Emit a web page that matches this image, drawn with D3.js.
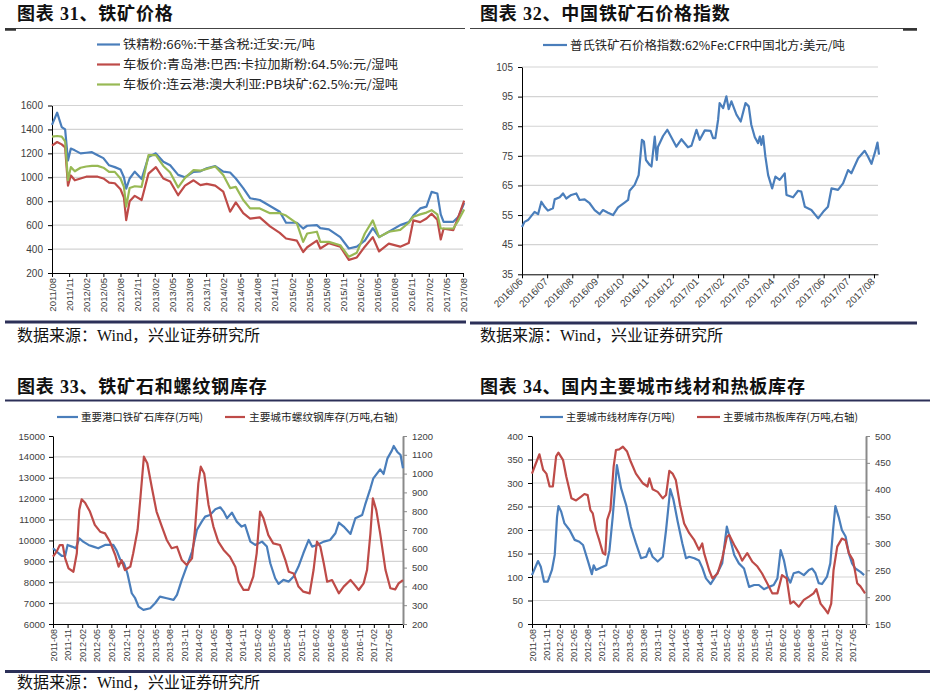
<!DOCTYPE html>
<html><head><meta charset="utf-8">
<script src="https://cdn.jsdelivr.net/npm/d3@7"></script>
<style>body{margin:0;background:#fff}svg{display:block}</style>
</head><body>
<script>
// ---------- Panel 31: iron ore prices (month offset from 2011/08) ----------
const p1T = [0,0.9,1.7,2.3,2.8,3.3,4,5,6,7,8,9,10,11,12,12.6,13,13.6,14.5,15.7,16.9,18.2,19.5,20.7,22.1,23.3,24.8,26,27.1,28.6,30,31.2,32.2,33.5,34.7,36.4,38.2,39.9,41,42.9,44,44.7,46.4,47,48.5,50.5,52,53.4,54.8,56.2,57.3,59,61,62.5,63.3,64.5,65.6,66.5,67.5,68.1,68.6,70.3,71.2,72.2];
const p1Qianan = [1438,1540,1420,1400,1140,1240,1225,1200,1205,1210,1185,1160,1100,1085,1065,1000,905,990,1047,985,1170,1200,1130,1100,1020,1000,1045,1050,1075,1094,1047,1040,990,910,825,810,760,712,620,620,572,595,600,575,565,500,405,420,470,575,500,545,600,625,680,740,755,878,865,690,628,628,670,785];
const p1Carajas = [1265,1295,1275,1250,930,1015,975,990,1005,1005,1005,990,955,950,900,830,642,800,845,810,1030,1085,990,965,850,930,975,935,945,930,880,712,790,700,655,665,590,535,488,470,375,415,470,405,450,420,310,330,420,500,380,445,420,450,640,625,655,695,645,480,570,558,670,805];
const p1PBLump = [1340,1345,1340,1300,975,1085,1050,1080,1090,1095,1095,1080,1045,1045,990,920,755,910,925,920,1185,1185,1095,1040,915,995,1060,1055,1070,1090,1020,910,920,810,740,740,700,700,680,615,460,530,545,460,460,432,335,370,530,640,500,545,560,620,670,690,705,725,690,572,572,572,640,730];
const p1Names = ["铁精粉:66%:干基含税:迁安:元/吨","车板价:青岛港:巴西:卡拉加斯粉:64.5%:元/湿吨","车板价:连云港:澳大利亚:PB块矿:62.5%:元/湿吨"];
const p1XLabels = ["2011/08","2011/11","2012/02","2012/05","2012/08","2012/11","2013/02","2013/05","2013/08","2013/11","2014/02","2014/05","2014/08","2014/11","2015/02","2015/05","2015/08","2015/11","2016/02","2016/05","2016/08","2016/11","2017/02","2017/05","2017/08"];
const p1YTicks = [200,400,600,800,1000,1200,1400,1600];

// ---------- Panel 32: Platts index (month offset from 2016/06) ----------
const p2T = [0,0.1,0.24,0.5,0.64,0.77,0.9,1.03,1.23,1.3,1.5,1.63,1.76,1.96,2.16,2.29,2.49,2.69,2.89,3.09,3.22,3.42,3.62,3.82,4.08,4.22,4.28,4.48,4.64,4.77,4.85,4.93,5.08,5.15,5.28,5.36,5.41,5.61,5.78,5.94,6.14,6.34,6.6,6.74,6.94,7.07,7.27,7.5,7.6,7.69,7.8,7.86,8.0,8.13,8.22,8.33,8.53,8.7,8.89,9.02,9.12,9.26,9.39,9.46,9.52,9.59,9.68,9.79,9.95,10.08,10.25,10.45,10.52,10.78,10.98,11.11,11.25,11.51,11.78,11.98,12.17,12.31,12.57,12.77,12.97,13.1,13.37,13.63,13.76,13.9,14.03,14.14,14.2];
const p2Platts = [51.0,52.7,53.3,56.1,55.3,59.5,57.8,56.5,57.3,60.3,61.0,62.3,60.6,61.8,62.3,60.1,60.3,59.0,56.7,55.3,56.7,55.8,55.0,57.6,59.2,60.1,63.2,65.2,68.5,80.4,79.8,73.6,71.9,71.4,81.5,73.6,78.1,81.7,83.8,81.3,78.1,80.6,77.9,78.4,83.8,80.4,83.6,83.4,81.0,81.0,87.2,92.8,91.1,95.1,90.8,93.4,88.9,86.6,92.8,91.7,85.5,81.3,79.3,81.5,78.7,81.7,74.8,68.5,64.0,68.0,66.9,69.1,61.8,61.0,63.2,62.9,57.8,56.7,53.9,56.1,57.8,64.0,63.5,65.7,70.2,69.1,74.2,76.7,74.8,72.3,75.9,79.5,75.4];
const p2Name = "普氏铁矿石价格指数:62%Fe:CFR中国北方:美元/吨";
const p2XLabels = ["2016/06","2016/07","2016/08","2016/09","2016/10","2016/11","2016/12","2017/01","2017/02","2017/03","2017/04","2017/05","2017/06","2017/07","2017/08"];
const p2YTicks = [35,45,55,65,75,85,95,105];

// ---------- Panel 33: ore port stock & rebar stock (month offset from 2011-08) ----------
const p3OreT = [0,0.75,1.8,2.5,3,3.9,4.7,5.4,6.2,7.3,8.3,9.3,10.7,12.4,13.1,13.8,14.6,15.3,16.2,16.9,17.6,18.6,20,21,22,23.4,24.8,25.5,26.5,27.5,28.6,29.6,30.6,31.3,32.3,33.4,34.4,35.1,35.8,36.8,37.8,38.8,39.5,40.6,41.6,43,44,44.7,45.7,46.4,47.4,48.5,49.5,50.5,51.5,52.6,53.3,54.3,55.7,57,58.1,58.8,59.8,61.2,62.2,63.6,64.2,65.3,65.9,67.3,68,68.8,69.7,70.1,70.8,71.5,72];
const p3Ore = [9625,9466,9258,9258,9785,9705,9625,10104,9944,9785,9705,9625,9785,9785,9514,9099,8907,8429,7472,7233,6834,6675,6754,6994,7313,7233,7153,7392,8110,8748,9466,10503,10901,11140,11220,11491,11587,11380,11061,11332,10901,10662,10742,9944,9785,9944,9705,8907,8190,7919,8110,8030,8270,8748,9386,10024,9705,9785,9944,10024,10343,10853,10662,10311,11061,11220,11699,12496,12975,13405,13182,13931,14298,14521,14250,14091,13453];
const p3RebarT = [0,0.75,1.4,2,2.5,3.2,4.2,4.9,5.4,5.9,6.6,7.6,8.6,9.7,10.7,11.7,12.8,13.5,14.1,14.8,15.9,16.5,17.4,18,18.7,19.4,20.3,21.3,22.4,23.4,24.4,25.5,26.5,27.5,28.6,29.2,29.9,30.4,31.1,32,33,34,35.1,36.4,37.5,38.2,39.2,40.2,41.2,41.9,42.6,43.3,44.3,45.3,46.7,47.8,48.5,49.5,50.5,51.5,52.8,53.6,54.3,55,55.7,56.4,57.4,58.8,59.8,61.2,61.8,62.9,63.9,64.6,65.3,65.8,66.5,67.3,68.4,69.4,70.4,71.1,72];
const p3Rebar = [558,585,620,620,549,496,478,576,806,863,845,798,727,691,682,638,567,505,540,487,505,576,700,877,1090,1055,930,798,718,647,603,611,540,514,549,700,948,1037,1001,833,718,638,594,558,505,425,381,381,452,576,798,762,673,629,620,540,478,469,399,372,363,487,638,611,523,425,434,363,399,434,416,381,416,487,682,868,806,682,487,390,384,416,434];
const p3Names = ["重要港口铁矿石库存(万吨)","主要城市螺纹钢库存(万吨,右轴)"];
const p3XLabels = ["2011-08","2011-11","2012-02","2012-05","2012-08","2012-11","2013-02","2013-05","2013-08","2013-11","2014-02","2014-05","2014-08","2014-11","2015-02","2015-05","2015-08","2015-11","2016-02","2016-05","2016-08","2016-11","2017-02","2017-05"];
const p3YLTicks = [6000,7000,8000,9000,10000,11000,12000,13000,14000,15000];
const p3YRTicks = [200,300,400,500,600,700,800,900,1000,1100,1200];

// ---------- Panel 34: wire rod & hot-rolled stock ----------
const p4WireT = [0,0.6,1.3,1.9,2.6,3.4,4.3,4.9,5.4,5.7,6.3,7,8.1,9.2,10.2,11,12,12.9,13.3,13.8,14.9,16,16.7,17.4,18.3,19.2,20.3,21.3,22.4,23.5,24.6,25.3,26,27.1,28.2,28.9,29.8,30.5,31.4,32.4,33.2,33.9,35,36,36.7,37.5,38.5,39.3,40.1,41,42,42.7,43.6,44.6,45.7,46.8,47.9,48.9,50,51.1,52.1,52.9,53.6,54.3,55,55.7,56.4,57.5,58.6,59.7,60.4,61.1,61.8,62.5,63.6,64.3,64.9,65.4,66.1,66.8,67.6,68.3,69,69.7,70.8,71.6];
const p4Wire = [104,118,134,122,90,90,115,147,228,251,239,214,200,179,175,168,136,106,125,115,120,125,157,228,338,289,253,207,172,140,143,161,143,133,143,200,287,264,218,172,140,143,140,135,120,97,85,97,111,129,207,182,147,129,118,79,83,83,74,79,83,97,157,136,101,88,108,111,104,115,118,108,87,85,101,129,200,251,228,200,186,150,129,118,111,104];
const p4HotT = [0,0.7,1.6,2.4,3.1,3.8,4.5,5.2,5.7,6.7,7.4,8.5,9.5,10.6,11.3,12,12.6,13.1,13.8,14.5,15.3,15.8,16.2,16.9,17.6,18.1,18.8,19.6,20.5,21.3,22.4,23.9,24.9,25.3,26,27.1,28.2,28.9,29.6,30.3,31,31.9,32.8,33.9,35,36,36.7,37.1,38.2,38.9,40,41,42,42.5,43.6,44.6,45.3,46.4,47.5,48.6,49.6,50.7,51.8,52.9,53.9,54.9,55.7,56.4,57.5,58.6,59.7,60.7,61.3,62.2,63.3,63.8,64.5,65,65.8,66.8,67.6,68.3,69.2,70.1,70.8,71.8];
const p4Hot = [430,446,466,437,430,406,406,462,469,455,424,384,380,387,392,390,362,356,325,306,282,279,344,362,443,474,475,480,471,452,430,412,406,421,401,396,384,390,435,430,418,372,337,319,306,288,300,282,250,235,244,272,312,316,297,282,268,282,266,257,244,226,207,207,241,235,188,192,182,195,201,207,215,188,176,170,188,250,294,309,306,282,269,226,220,207];
const p4Names = ["主要城市线材库存(万吨)","主要城市热板库存(万吨,右轴)"];
const p4XLabels = p3XLabels;
const p4YLTicks = [0,50,100,150,200,250,300,350,400];
const p4YRTicks = [150,200,250,300,350,400,450,500];

const titles = ["图表 31、铁矿价格","图表 32、中国铁矿石价格指数","图表 33、铁矿石和螺纹钢库存","图表 34、国内主要城市线材和热板库存"];
const sourceText = "数据来源：Wind，兴业证券研究所";

// ---------- drawing ----------
const BLUE="#4a7ebb", RED="#be4b48", GREEN="#98b954", NAVY="#2c3058";
const SERIF='"Liberation Serif","Noto Sans CJK SC",serif';
const CJK='"Noto Sans CJK SC",sans-serif';
const NUM='"Liberation Sans",Arial,sans-serif';
const fmt = d3.format("d");
const svg = d3.select("body").append("svg").attr("width",941).attr("height",693);
svg.append("rect").attr("width",941).attr("height",693).attr("fill","#fff");

function title(x,y,t){
  svg.append("text").attr("x",x).attr("y",y).attr("font-family",SERIF).attr("font-weight","bold")
    .attr("font-size",18).attr("letter-spacing",0.8).attr("fill","#111").text(t);
}
function rule(x1,x2,y,w,c){
  svg.append("line").attr("x1",x1).attr("x2",x2).attr("y1",y).attr("y2",y).attr("stroke",c).attr("stroke-width",w);
}
function source(x,y){
  svg.append("text").attr("x",x).attr("y",y).attr("font-family",SERIF).attr("font-size",16).attr("fill","#111").text(sourceText);
}
function legend(x1,x2,y,color,t,tx,tw,fs){
  svg.append("line").attr("x1",x1).attr("x2",x2).attr("y1",y).attr("y2",y).attr("stroke",color).attr("stroke-width",2.2);
  svg.append("text").attr("x",tx).attr("y",y+fs*0.38).attr("font-family",CJK).attr("font-size",fs)
    .attr("textLength",tw).attr("lengthAdjust","spacingAndGlyphs").attr("fill","#222").text(t);
}
function grid(y,ticks,x0,x1){
  svg.append("g").selectAll("line").data(ticks).join("line")
    .attr("x1",x0).attr("x2",x1).attr("y1",d=>y(d)).attr("y2",d=>y(d))
    .attr("stroke","#d3d3d3").attr("stroke-width",1.2);
}
function styleAxis(g,color,w,fs){
  g.attr("font-family",null).attr("font-size",null);
  g.select(".domain").attr("stroke",color).attr("stroke-width",w);
  g.selectAll(".tick line").attr("stroke",color);
  g.selectAll("text").attr("fill","#404040").attr("font-size",fs).attr("font-family",NUM);
}
function series(x,y,T,V,color){
  svg.append("path").datum(V).attr("fill","none").attr("stroke",color).attr("stroke-width",2.2)
    .attr("stroke-linejoin","round")
    .attr("d",d3.line().x((d,i)=>x(T[i])).y(d=>y(d)));
}
function rotX(g){
  g.selectAll("text").attr("transform","rotate(-90)").attr("text-anchor","end")
    .attr("x",-5).attr("y",0).attr("dy","0.35em");
}

// ===== Panel 31 =====
title(17,20,titles[0]);
rule(5,465,28.5,1,"#444"); rule(5,16,29.5,2.5,"#333");
{
  const x=d3.scaleLinear().domain([0,72]).range([52,463]);
  const y=d3.scaleLinear().domain([200,1600]).range([273,105.5]);
  grid(y,p1YTicks.slice(1),52,463);
  const gx=svg.append("g").attr("transform","translate(0,273)")
    .call(d3.axisBottom(x).tickValues(p1XLabels.map((d,i)=>i*3)).tickFormat((d,i)=>p1XLabels[i]).tickSize(4).tickSizeOuter(0));
  styleAxis(gx,"#000",1,9.5); rotX(gx);
  const gy=svg.append("g").attr("transform","translate(52,0)")
    .call(d3.axisLeft(y).tickValues(p1YTicks).tickFormat(fmt).tickSize(4).tickPadding(5).tickSizeOuter(0));
  styleAxis(gy,"#000",1,10);
  series(x,y,p1T,p1Qianan,BLUE);
  series(x,y,p1T,p1Carajas,RED);
  series(x,y,p1T,p1PBLump,GREEN);
  legend(97,120,44.5,BLUE,p1Names[0],123,192,12);
  legend(97,120,64.5,RED,p1Names[1],123,275,12);
  legend(97,120,84.5,GREEN,p1Names[2],123,275,12);
}
rule(5,466,322,3,NAVY);
source(17,341);

// ===== Panel 32 =====
title(480,20,titles[1]);
rule(470,917,28.5,1,"#444"); rule(903,917,29.5,2.5,"#333");
{
  const x=d3.scaleLinear().domain([0,14.16]).range([522,878]);
  const y=d3.scaleLinear().domain([35,105]).range([274.3,67]);
  grid(y,p2YTicks.slice(1),522,878);
  const gx=svg.append("g").attr("transform","translate(0,274.3)")
    .call(d3.axisBottom(x).tickValues(p2XLabels.map((d,i)=>i)).tickFormat((d,i)=>p2XLabels[i]).tickSize(4).tickSizeOuter(0));
  styleAxis(gx,"#000",1,10);
  gx.selectAll("text").attr("transform","rotate(-45)").attr("text-anchor","end").attr("x",-5).attr("y",3).attr("dy","0.35em");
  const gy=svg.append("g").attr("transform","translate(522,0)")
    .call(d3.axisLeft(y).tickValues(p2YTicks).tickFormat(fmt).tickSize(4).tickPadding(5).tickSizeOuter(0));
  styleAxis(gy,"#000",1,10);
  series(x,y,p2T,p2Platts,BLUE);
  legend(543,567,45,BLUE,p2Name,570,275,12);
}
rule(470,917,323,3,NAVY);
source(480,341);

// ===== Panel 33 =====
title(17,393,titles[2]);
rule(5,470,400.5,2.2,NAVY);
{
  const x=d3.scaleLinear().domain([0,72]).range([53,403]);
  const yL=d3.scaleLinear().domain([6000,15000]).range([624,436]);
  const yR=d3.scaleLinear().domain([200,1200]).range([624,436]);
  grid(yL,p3YLTicks.slice(1,-1),53,403);
  const ticks=p3XLabels.map((d,i)=>i*3).concat([72]);
  const gx=svg.append("g").attr("transform","translate(0,624)")
    .call(d3.axisBottom(x).tickValues(ticks).tickFormat((d,i)=>p3XLabels[i]||"").tickSize(4).tickSizeOuter(0));
  styleAxis(gx,"#000",1,9); rotX(gx);
  const gy=svg.append("g").attr("transform","translate(53,0)")
    .call(d3.axisLeft(yL).tickValues(p3YLTicks).tickFormat(fmt).tickSize(4).tickPadding(4).tickSizeOuter(0));
  styleAxis(gy,"#000",1,9.5);
  const gr=svg.append("g").attr("transform","translate(403,0)")
    .call(d3.axisRight(yR).tickValues(p3YRTicks).tickFormat(fmt).tickSize(4).tickPadding(5).tickSizeOuter(0));
  styleAxis(gr,"#8a8a8a",2,9.5);
  series(x,yL,p3OreT,p3Ore,BLUE);
  series(x,yR,p3RebarT,p3Rebar,RED);
  legend(57,78,417,BLUE,p3Names[0],81,122,10.5);
  legend(225,245,417,RED,p3Names[1],249,149,10.5);
}
rule(5,470,671.5,3,NAVY);
source(17,688);

// ===== Panel 34 =====
title(480,393,titles[3]);
rule(470,930,400.5,2.2,NAVY);
{
  const x=d3.scaleLinear().domain([0,72]).range([532,866]);
  const yL=d3.scaleLinear().domain([0,400]).range([624,436]);
  const yR=d3.scaleLinear().domain([150,500]).range([624,436]);
  grid(yL,p4YLTicks.slice(1,-1),532,866);
  const ticks=p4XLabels.map((d,i)=>i*3).concat([72]);
  const gx=svg.append("g").attr("transform","translate(0,624)")
    .call(d3.axisBottom(x).tickValues(ticks).tickFormat((d,i)=>p4XLabels[i]||"").tickSize(4).tickSizeOuter(0));
  styleAxis(gx,"#000",1,9); rotX(gx);
  const gy=svg.append("g").attr("transform","translate(532,0)")
    .call(d3.axisLeft(yL).tickValues(p4YLTicks).tickFormat(fmt).tickSize(4).tickPadding(5).tickSizeOuter(0));
  styleAxis(gy,"#000",1,9.5);
  const gr=svg.append("g").attr("transform","translate(866,0)")
    .call(d3.axisRight(yR).tickValues(p4YRTicks).tickFormat(fmt).tickSize(4).tickPadding(5).tickSizeOuter(0));
  styleAxis(gr,"#8a8a8a",2,9.5);
  series(x,yL,p4WireT,p4Wire,BLUE);
  series(x,yR,p4HotT,p4Hot,RED);
  legend(540,563,417,BLUE,p4Names[0],566,109,10.5);
  legend(697,720,417,RED,p4Names[1],723,135,10.5);
}
rule(470,930,671.5,3,NAVY);
</script>
</body></html>
